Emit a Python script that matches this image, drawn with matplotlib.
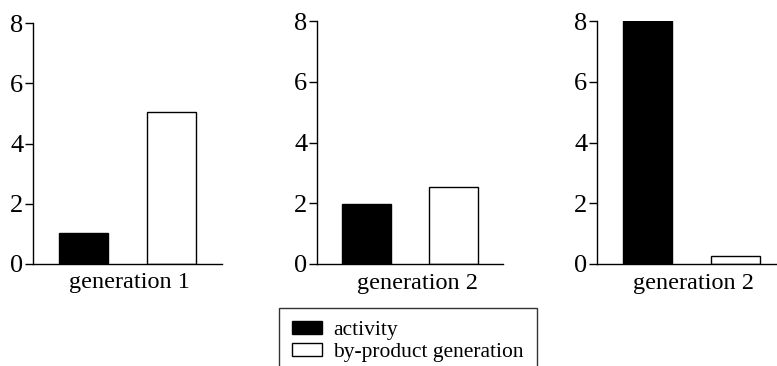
import matplotlib
matplotlib.use("Agg")
import matplotlib.pyplot as plt

plt.rcParams['font.family'] = ['Liberation Serif', 'DejaVu Serif']

# values
panel_labels = ["generation 1", "generation 2", "generation 2"]
activity = [1.03, 1.98, 8.0]
byproduct = [5.05, 2.55, 0.27]
series_names = ["activity", "by-product generation"]
yticks = [0, 2, 4, 6, 8]

W, H = 777, 366
fig = plt.figure(figsize=(W / 100, H / 100), dpi=100)

# axes boxes in pixels: left, top, right, bottom
boxes = [(33, 23, 222, 264), (317, 21, 503, 264), (597, 21, 786, 264)]
label_x = [0.51, 0.54, 0.51]

for i, (l, t, r, b) in enumerate(boxes):
    ax = fig.add_axes([l / W, 1 - b / H, (r - l) / W, (b - t) / H])
    ax.bar(0, activity[i], width=0.56, color='black', edgecolor='black',
           linewidth=1, label=series_names[0])
    ax.bar(1, byproduct[i], width=0.56, color='white', edgecolor='black',
           linewidth=1, label=series_names[1])
    ax.set_xlim(-0.57, 1.57)
    ax.set_ylim(0, 8)
    ax.set_yticks(yticks)
    ax.set_xticks([])
    ax.spines['top'].set_visible(False)
    ax.spines['right'].set_visible(False)
    ax.spines['left'].set_linewidth(1)
    ax.spines['bottom'].set_linewidth(1)
    ax.tick_params(axis='y', direction='out', length=6, width=1,
                   labelsize=19, pad=1)
    ax.set_xlabel(panel_labels[i], fontsize=17.5)
    ax.xaxis.set_label_coords(label_x[i], -0.035, transform=ax.transAxes)
    ax.xaxis.label.set_verticalalignment('top')
    if i == 0:
        handles, labels = ax.get_legend_handles_labels()

leg = fig.legend(handles, labels, loc='upper left',
                 bbox_to_anchor=(279 / W, 1 - 308 / H),
                 frameon=True, fancybox=False, edgecolor='black',
                 fontsize=15.5, handlelength=1.4, handleheight=0.55,
                 handletextpad=0.5, labelspacing=0.1, borderpad=0.62,
                 borderaxespad=0)
leg.get_frame().set_linewidth(1)

fig.savefig("out.png", dpi=100)
